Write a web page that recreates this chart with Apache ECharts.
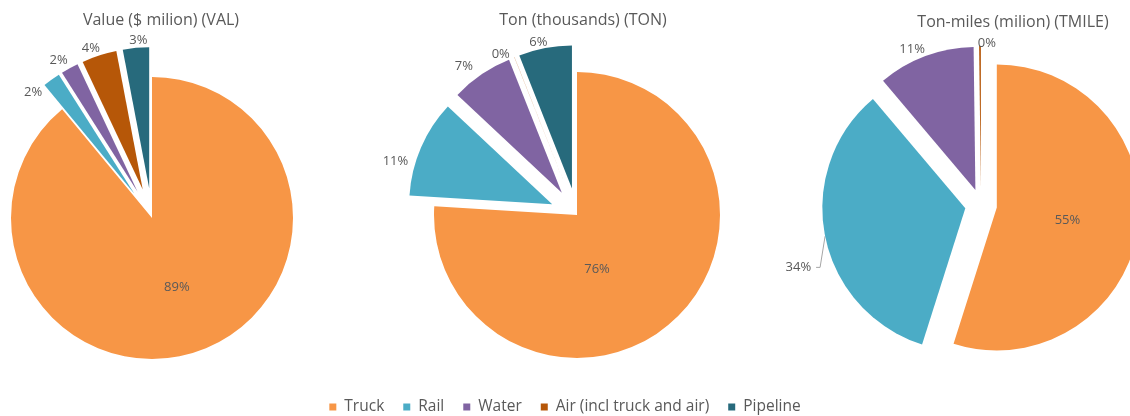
<!DOCTYPE html>
<html>
<head>
<meta charset="utf-8">
<style>
  html, body { margin: 0; padding: 0; background: #fff; }
  #chart { width: 1130px; height: 416px; }
</style>
<script src="https://cdn.jsdelivr.net/npm/echarts@6/dist/echarts.min.js"></script>
</head>
<body>
<div id="chart"></div>
<script>
// transport modes (legend order)
const modes = ['Truck', 'Rail', 'Water', 'Air (incl truck and air)', 'Pipeline'];
const modeColors = ['#F79646', '#4BACC6', '#8064A2', '#B65708', '#276A7C'];

// share of each mode, per measure (percent)
const valShare = [89, 2, 2, 4, 3];
const tonShare = [76, 11, 7, 0.02, 6];
const tmileShare = [55, 34, 11, 0.2, null];

const chartTitles = ['Value ($ milion) (VAL)', 'Ton (thousands) (TON)', 'Ton-miles (milion) (TMILE)'];

const labelColor = '#595959';
const font = 'Open Sans';

// nudge labels to where excel put them
const valLabelShift = [[0, 0], [-2, 16], [5, -4], [7, -3], [17, -3]];
const tonLabelShift = [[-31, 0], [-4, 15], [-1, -5], [2, 1], [8, -2]];
const tmileLabelShift = [[-3, 1], [3, 30], [6, -3], [21, 1], [0, 0]];

// build the pie items; exploded = which slices are pulled out
function buildData(values, exploded) {
  const data = [];
  values.forEach((v, i) => {
    if (v === null) return;
    const item = {
      name: modes[i],
      value: v,
      selected: exploded[i],
      itemStyle: { color: modeColors[i] }
    };
    // truck share is labelled inside the slice
    if (i === 0) {
      item.label = { position: 'inside' };
    }
    data.push(item);
  });
  return data;
}

function shiftLayout(shifts, leaderIdx) {
  return function (params) {
    const s = shifts[params.dataIndex] || [0, 0];
    const res = { hideOverlap: false, dx: s[0], dy: s[1] };
    if (params.dataIndex === leaderIdx && params.labelLinePoints) {
      // bend the leader line down to the moved label
      const p0 = params.labelLinePoints[0];
      const yEnd = params.labelRect.y + params.labelRect.height / 2 + s[1];
      res.labelLinePoints = [
        [p0[0], p0[1]],
        [p0[0] - 5, yEnd],
        [p0[0] - 9, yEnd]
      ];
    }
    return res;
  };
}

function pieSeries(center, radius, offset, data, shifts, leaderIdx) {
  return {
    type: 'pie',
    center: center,
    radius: radius,
    startAngle: 90,
    clockwise: true,
    selectedMode: 'multiple',
    selectedOffset: offset,
    avoidLabelOverlap: false,
    percentPrecision: 0,
    label: {
      show: true,
      position: 'outside',
      formatter: '{d}%',
      color: labelColor,
      fontFamily: font,
      fontSize: 13
    },
    labelLine: { show: false, length: 4, length2: 0 },
    labelLayout: shiftLayout(shifts, leaderIdx),
    itemStyle: { borderWidth: 0 },
    emphasis: { scale: false },
    select: { itemStyle: { borderWidth: 0 } },
    data: data
  };
}

const myChart = echarts.init(document.getElementById('chart'));

const tmileSeries = pieSeries([981, 205], 143, 16,
  buildData(tmileShare, [true, true, true, true, true]), tmileLabelShift, 1);
// rail label gets a leader line
tmileSeries.data[1].labelLine = { show: true, length: 6, length2: 6, lineStyle: { color: '#A6A6A6', width: 1 } };

const option = {
  animation: false,
  title: [
    { text: chartTitles[0], left: 156, top: 7, textAlign: 'center' },
    { text: chartTitles[1], left: 578, top: 7, textAlign: 'center' },
    { text: chartTitles[2], left: 1008, top: 9, textAlign: 'center' }
  ].map(t => Object.assign(t, {
    textStyle: { color: labelColor, fontFamily: font, fontSize: 16, fontWeight: 'normal' }
  })),
  legend: {
    data: modes,
    top: 394,
    left: 'center',
    icon: 'rect',
    itemWidth: 7,
    itemHeight: 7,
    itemGap: 19,
    selectedMode: false,
    textStyle: { color: labelColor, fontFamily: font, fontSize: 15.5, padding: [0, 0, 0, 3] }
  },
  series: [
    pieSeries([152, 218], 141, 30,
      buildData(valShare, [false, true, true, true, true]), valLabelShift, -1),
    pieSeries([577, 215], 143, 27,
      buildData(tonShare, [false, true, true, true, true]), tonLabelShift, -1),
    tmileSeries
  ]
};
myChart.setOption(option);
</script>
</body>
</html>
